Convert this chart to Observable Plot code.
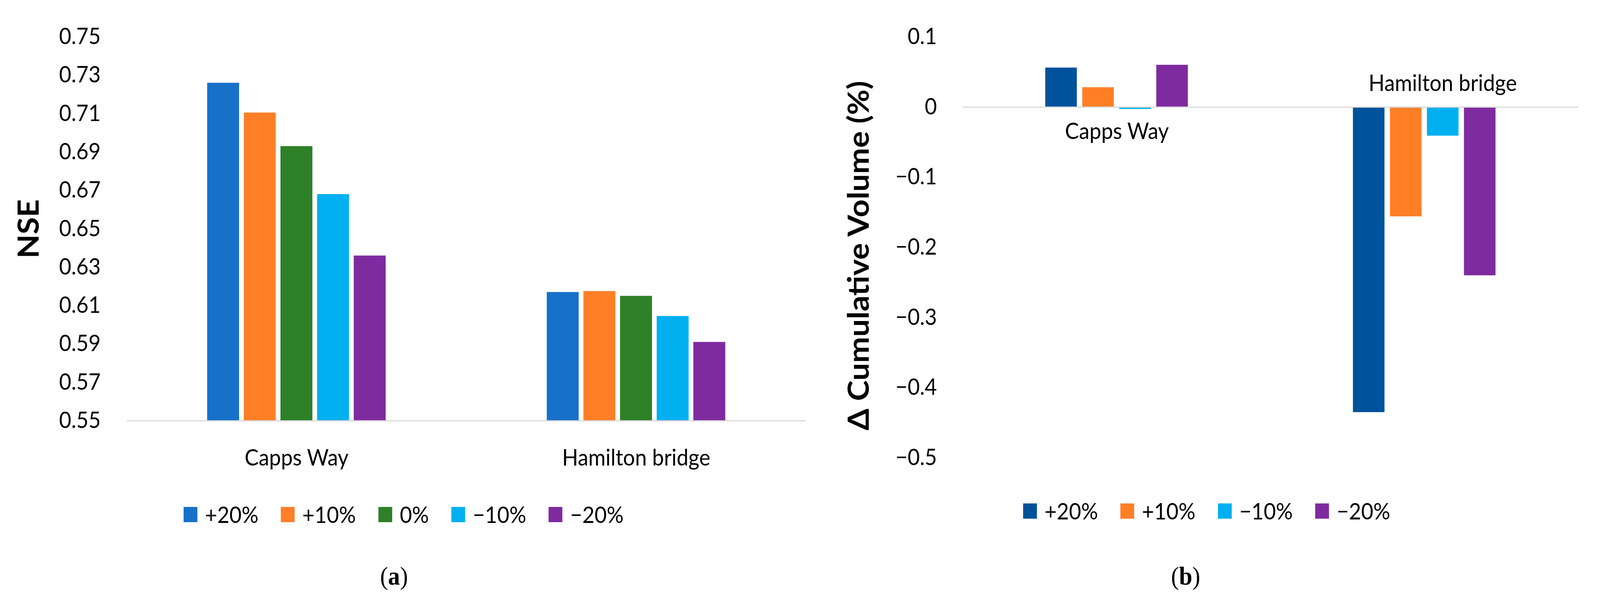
<!DOCTYPE html>
<html><head><meta charset="utf-8">
<script src="https://cdn.jsdelivr.net/npm/d3@7"></script>
<script src="https://cdn.jsdelivr.net/npm/@observablehq/plot@0.6"></script>
<style>
html,body{margin:0;padding:0;background:#fff;overflow:hidden;}
#page{position:relative;width:4410px;height:1567px;font-family:Lato,"Open Sans",sans-serif;color:#000;overflow:hidden;transform-origin:0 0;}
.panel{position:absolute;top:0;}
.legend{position:absolute;display:flex;align-items:center;font-size:58px;white-space:nowrap;line-height:1;transform:translateY(-50%);}
.legend .item{display:flex;align-items:center;margin-right:62px;}
.legend .sw{width:38px;height:39px;margin-right:21px;}
.cap{position:absolute;font-family:"Liberation Serif",serif;font-size:66px;transform:translate(-50%,-50%);line-height:1;}
</style></head><body><div id="page"></div>
<script>
// ---------- data ----------
const sites = ["Capps Way", "Hamilton bridge"];

const nseScenarios = ["+20%", "+10%", "0%", "−10%", "−20%"];
const nseColors = ["#1771C9", "#FF7F27", "#2E8029", "#00B0F0", "#7F2BA0"];
const nseCapps = [0.726, 0.7105, 0.693, 0.668, 0.636];
const nseHamilton = [0.617, 0.6175, 0.615, 0.6045, 0.591];
const nseTicks = [0.55, 0.57, 0.59, 0.61, 0.63, 0.65, 0.67, 0.69, 0.71, 0.73, 0.75];
const nseLabel = "NSE";

const volScenarios = ["+20%", "+10%", "−10%", "−20%"];
const volColors = ["#00529B", "#FF7F27", "#00B0F0", "#7F2BA0"];
const volCapps = [0.056, 0.028, -0.003, 0.06];
const volHamilton = [-0.435, -0.156, -0.041, -0.240];
const volTicks = [0.1, 0, -0.1, -0.2, -0.3, -0.4, -0.5];
const volLabel = "Δ Cumulative Volume (%)";

const captions = ["a", "b"];

// ---------- tables ----------
const nseData = [];
[nseCapps, nseHamilton].forEach((vals, i) =>
  nseScenarios.forEach((s, j) => nseData.push({site: sites[i], scenario: s, value: vals[j]})));
const volData = [];
[volCapps, volHamilton].forEach((vals, i) =>
  volScenarios.forEach((s, j) => volData.push({site: sites[i], scenario: s, value: vals[j]})));

const page = document.getElementById("page");
const fitX = Math.min(window.innerWidth / 4410, 1);
const fitY = Math.min(window.innerHeight / 1567, 1);
if (fitX < 1 || fitY < 1) page.style.transform = `scale(${fitX}, ${fitY})`;
const baseStyle = {fontFamily: "Lato, 'Open Sans', sans-serif", fontSize: "58px", color: "#000", background: "#fff", overflow: "visible"};

// ---------- panel (a) ----------
const chartA = Plot.plot({
  width: 2300, height: 1230,
  marginLeft: 349, marginRight: 79, marginTop: 94, marginBottom: 153,
  style: baseStyle,
  fx: {domain: sites, padding: 0, axis: "bottom", tickSize: 0, tickPadding: 73, label: null},
  x: {domain: nseScenarios, axis: null, paddingInner: 0.133, paddingOuter: 2.18},
  y: {domain: [0.55, 0.75], ticks: nseTicks, tickFormat: d3.format(".2f"), tickSize: 0, tickPadding: 72, label: null},
  color: {domain: nseScenarios, range: nseColors},
  marks: [
    Plot.barY(nseData, {fx: "site", x: "scenario", y1: 0.55, y2: "value", fill: "scenario"}),
    Plot.ruleY([0.55], {stroke: "#d9d9d9", strokeWidth: 3}),
    Plot.text([nseLabel], {fx: () => sites[0], text: d => d, frameAnchor: "left", textAnchor: "middle", rotate: -90, dx: -268,
      fontWeight: "bold", fontSize: 80, fill: "#000"})
  ]
});
chartA.classList.add("panel");
chartA.style.left = "0px";
page.appendChild(chartA);

// ---------- panel (b) ----------
const chartB = Plot.plot({
  width: 2110, height: 1200,
  marginLeft: 353, marginRight: 60, marginTop: 94, marginBottom: 28,
  style: baseStyle,
  fx: {domain: sites, padding: 0, axis: null},
  x: {domain: volScenarios, axis: null, paddingInner: 0.146, paddingOuter: 2.19},
  y: {domain: [-0.5, 0.1], ticks: volTicks, tickFormat: d3.format(".1~f"), tickSize: 0, tickPadding: 72, label: null},
  color: {domain: volScenarios, range: volColors},
  marks: [
    Plot.barY(volData, {fx: "site", x: "scenario", y: "value", fill: "scenario"}),
    Plot.ruleY([0], {stroke: "#d9d9d9", strokeWidth: 3}),
    Plot.text([sites[0]], {fx: d => d, y: 0, text: d => d, dy: 63, fill: "#000", fontSize: 58}),
    Plot.text([sites[1]], {fx: d => d, y: 0, text: d => d, dy: -60, dx: 50, fill: "#000", fontSize: 58}),
    Plot.text([volLabel], {fx: () => sites[0], text: d => d, frameAnchor: "left", textAnchor: "middle", rotate: -90, dx: -286, dy: 21,
      fontWeight: "bold", fontSize: 80, fill: "#000"})
  ]
});
chartB.classList.add("panel");
chartB.style.left = "2300px";
page.appendChild(chartB);

// ---------- legends ----------
function legend(scenarios, colors, left, centerY) {
  const div = document.createElement("div");
  div.className = "legend";
  div.style.left = left + "px";
  div.style.top = centerY + "px";
  scenarios.forEach((s, i) => {
    const item = document.createElement("div");
    item.className = "item";
    const sw = document.createElement("span");
    sw.className = "sw";
    sw.style.background = colors[i];
    const t = document.createElement("span");
    t.textContent = s;
    item.appendChild(sw); item.appendChild(t);
    div.appendChild(item);
  });
  page.appendChild(div);
}
legend(nseScenarios, nseColors, 506, 1317);
legend(volScenarios, volColors, 2820, 1308);

// ---------- captions ----------
function caption(letter, cx, cy) {
  const d = document.createElement("div");
  d.className = "cap";
  d.style.left = cx + "px";
  d.style.top = cy + "px";
  d.innerHTML = "(<b>" + letter + "</b>)";
  page.appendChild(d);
}
caption(captions[0], 1086, 1475);
caption(captions[1], 3268, 1475);
</script>
</body></html>
